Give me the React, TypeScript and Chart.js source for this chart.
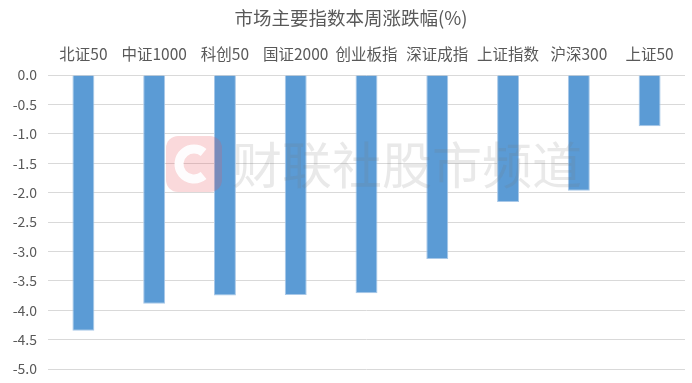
import React, { useEffect, useRef } from "react";
import { Chart, registerables } from "chart.js";

Chart.register(...registerables);

const title = "市场主要指数本周涨跌幅(%)";
const categories = ["北证50", "中证1000", "科创50", "国证2000", "创业板指", "深证成指", "上证指数", "沪深300", "上证50"];
const changes = [-4.35, -3.89, -3.75, -3.74, -3.71, -3.13, -2.16, -1.97, -0.87];
const watermark = "财联社股市频道";

const FONT = "'Noto Sans CJK SC', 'Noto Sans', sans-serif";

const overlayPlugin = {
  id: "overlay",
  afterDraw(chart: any) {
    const ctx = chart.ctx as CanvasRenderingContext2D;
    ctx.save();
    // title
    ctx.fillStyle = "#595959";
    ctx.font = `18.5px ${FONT}`;
    ctx.textAlign = "center";
    ctx.textBaseline = "middle";
    ctx.fillText(title, 351, 18);
    // watermark logo
    ctx.globalAlpha = 0.22;
    ctx.fillStyle = "#e8505b";
    const lx = 166, ly = 136, ls = 56, r = 12;
    ctx.beginPath();
    ctx.moveTo(lx + r, ly);
    ctx.arcTo(lx + ls, ly, lx + ls, ly + ls, r);
    ctx.arcTo(lx + ls, ly + ls, lx, ly + ls, r);
    ctx.arcTo(lx, ly + ls, lx, ly, r);
    ctx.arcTo(lx, ly, lx + ls, ly, r);
    ctx.closePath();
    ctx.fill();
    ctx.globalAlpha = 1;
    ctx.strokeStyle = "rgba(255,255,255,0.95)";
    ctx.lineWidth = 9;
    ctx.beginPath();
    ctx.arc(lx + ls / 2, ly + ls / 2, 15, Math.PI * 0.28, Math.PI * 1.72);
    ctx.stroke();
    // watermark text
    ctx.fillStyle = "rgba(120,120,120,0.16)";
    ctx.font = `50px ${FONT}`;
    ctx.textAlign = "left";
    ctx.textBaseline = "middle";
    ctx.fillText(watermark, 232, 165);
    ctx.restore();
  },
};

export default function App() {
  const ref = useRef<HTMLCanvasElement>(null);
  useEffect(() => {
    document.body.style.margin = "0";
    const chart = new Chart(ref.current!, {
      type: "bar",
      data: {
        labels: categories,
        datasets: [
          {
            data: changes,
            backgroundColor: "#5b9bd5",
            borderColor: "#a8c8e8",
            borderWidth: 1,
            barPercentage: 0.31,
            categoryPercentage: 1,
          },
        ],
      },
      options: {
        responsive: false,
        animation: false,
        layout: { padding: { left: 0, right: 7, top: 0, bottom: 14 } },
        plugins: { legend: { display: false }, tooltip: { enabled: false }, title: { display: false } },
        scales: {
          x: {
            position: "top",
            grid: { display: false, drawTicks: false },
            border: { display: false },
            ticks: { color: "#595959", font: { family: FONT, size: 15.5 }, padding: 12, maxRotation: 0, autoSkip: false },
            afterFit: (s: any) => { s.height = 75; s.paddingLeft = 0; s.paddingRight = 0; },
          },
          y: {
            min: -5,
            max: 0,
            grid: { color: "#d9d9d9", drawTicks: false },
            border: { display: false },
            ticks: {
              stepSize: 0.5,
              color: "#595959",
              font: { family: FONT, size: 14 },
              padding: 11,
              callback: (v: any) => Number(v).toFixed(1),
            },
            afterFit: (s: any) => { s.width = 48; s.paddingTop = 0; s.paddingBottom = 0; },
          },
        },
      },
      plugins: [overlayPlugin],
    });
    return () => chart.destroy();
  }, []);
  return (
    <div style={{ position: "fixed", left: 0, top: 0, width: 692, height: 383, background: "#fff" }}>
      <canvas ref={ref} width={692} height={383} />
    </div>
  );
}
